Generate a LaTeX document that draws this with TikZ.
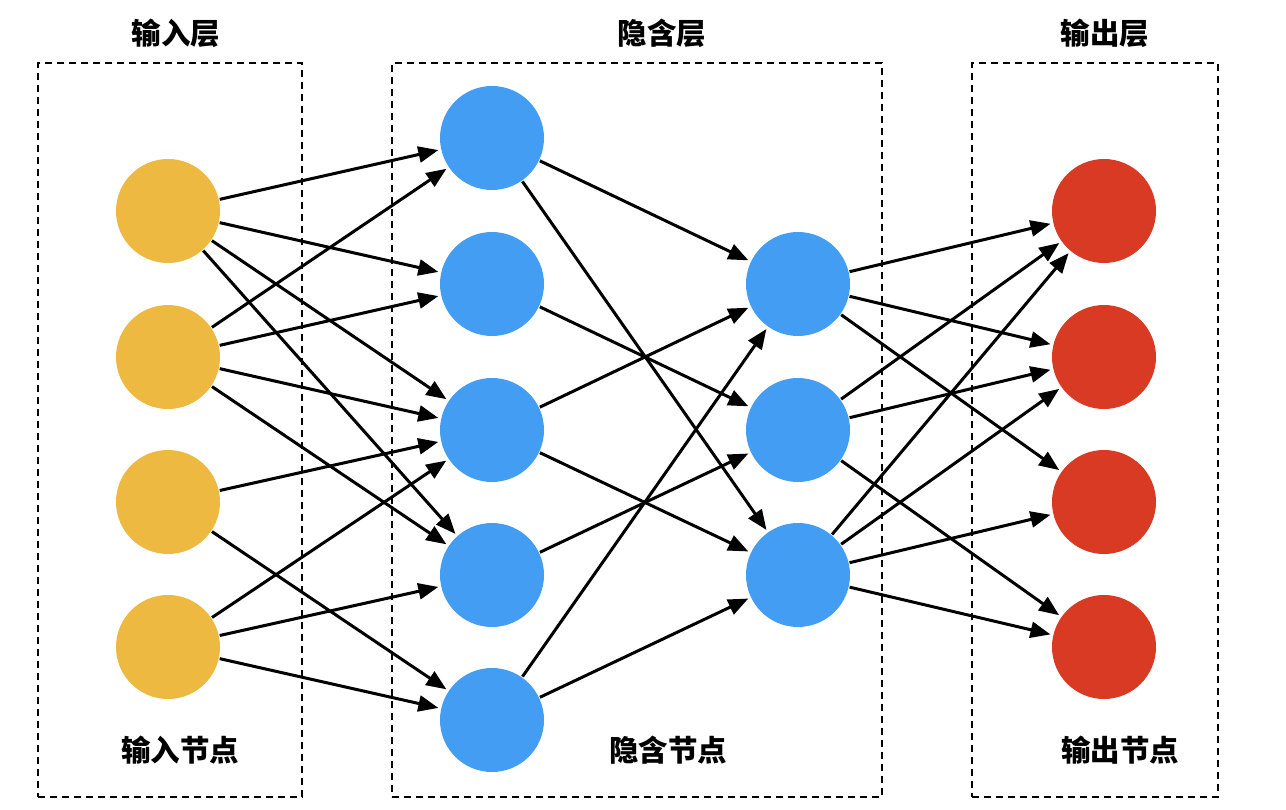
\documentclass[tikz,border=0pt]{standalone}
\usepackage{fontspec}
\newfontfamily\cjk{Noto Sans CJK SC}
\usetikzlibrary{arrows.meta}
\definecolor{inyel}{HTML}{EDB940}
\definecolor{hidblue}{HTML}{429DF3}
\definecolor{outred}{HTML}{D93A24}
\tikzset{
  neuron/.style={circle, minimum size=104pt, inner sep=0pt, outer sep=0pt},
  innode/.style={neuron, fill=inyel},
  hidnode/.style={neuron, fill=hidblue},
  outnode/.style={neuron, fill=outred},
  layerbox/.style={draw=black, line width=2.8pt, dash pattern=on 7pt off 5pt},
  conn/.style={draw=black, line width=3pt, -{Triangle[length=20pt,width=16pt]}, shorten >=3pt, shorten <=1pt},
  lbl/.style={font=\cjk\bfseries\fontsize{29.5}{32}\selectfont, inner sep=0pt}
}
\begin{document}
\begin{tikzpicture}[x=1pt, y=-1pt]
\useasboundingbox[fill=white] (0,0) rectangle (1286,810);
% layer boxes
\node[layerbox, minimum width=264pt, minimum height=734pt, inner sep=0pt] (boxin) at (170,430) {};
\node[layerbox, minimum width=490pt, minimum height=734pt, inner sep=0pt] (boxhid) at (637,430) {};
\node[layerbox, minimum width=246pt, minimum height=734pt, inner sep=0pt] (boxout) at (1095,430) {};
% labels
\node[lbl] (tin) at (176,33) {输入层};
\node[lbl] (thid) at (662,33) {隐含层};
\node[lbl] (tout) at (1105,33) {输出层};
\node[lbl] (bin) at (180,750) {输入节点};
\node[lbl] (bhid) at (668,750) {隐含节点};
\node[lbl] (bout) at (1120,750) {输出节点};
% input nodes
\node[innode] (i1) at (168,211) {};
\node[innode] (i2) at (168,357) {};
\node[innode] (i3) at (168,502) {};
\node[innode] (i4) at (168,647) {};
% hidden layer 1
\node[hidnode] (h1) at (492,138) {};
\node[hidnode] (h2) at (492,284) {};
\node[hidnode] (h3) at (492,430) {};
\node[hidnode] (h4) at (492,575) {};
\node[hidnode] (h5) at (492,720) {};
% hidden layer 2
\node[hidnode] (g1) at (798,284) {};
\node[hidnode] (g2) at (798,430) {};
\node[hidnode] (g3) at (798,575) {};
% output
\node[outnode] (o1) at (1104,211) {};
\node[outnode] (o2) at (1104,357) {};
\node[outnode] (o3) at (1104,502) {};
\node[outnode] (o4) at (1104,647) {};
% input -> hidden1
\draw[conn] (i1) -- (h1);
\draw[conn] (i1) -- (h2);
\draw[conn] (i1) -- (h3);
\draw[conn] (i1) -- (h4);
\draw[conn] (i2) -- (h1);
\draw[conn] (i2) -- (h2);
\draw[conn] (i2) -- (h3);
\draw[conn] (i2) -- (h4);
\draw[conn] (i3) -- (h3);
\draw[conn] (i3) -- (h5);
\draw[conn] (i4) -- (h3);
\draw[conn] (i4) -- (h4);
\draw[conn] (i4) -- (h5);
% hidden1 -> hidden2
\draw[conn] (h1) -- (g1);
\draw[conn] (h1) -- (g3);
\draw[conn] (h2) -- (g2);
\draw[conn] (h3) -- (g1);
\draw[conn] (h3) -- (g3);
\draw[conn] (h4) -- (g2);
\draw[conn] (h5) -- (g1);
\draw[conn] (h5) -- (g3);
% hidden2 -> output
\draw[conn] (g1) -- (o1);
\draw[conn] (g1) -- (o2);
\draw[conn] (g1) -- (o3);
\draw[conn] (g2) -- (o1);
\draw[conn] (g2) -- (o2);
\draw[conn] (g2) -- (o4);
\draw[conn] (g3) -- (o1);
\draw[conn] (g3) -- (o2);
\draw[conn] (g3) -- (o3);
\draw[conn] (g3) -- (o4);
\end{tikzpicture}
\end{document}
